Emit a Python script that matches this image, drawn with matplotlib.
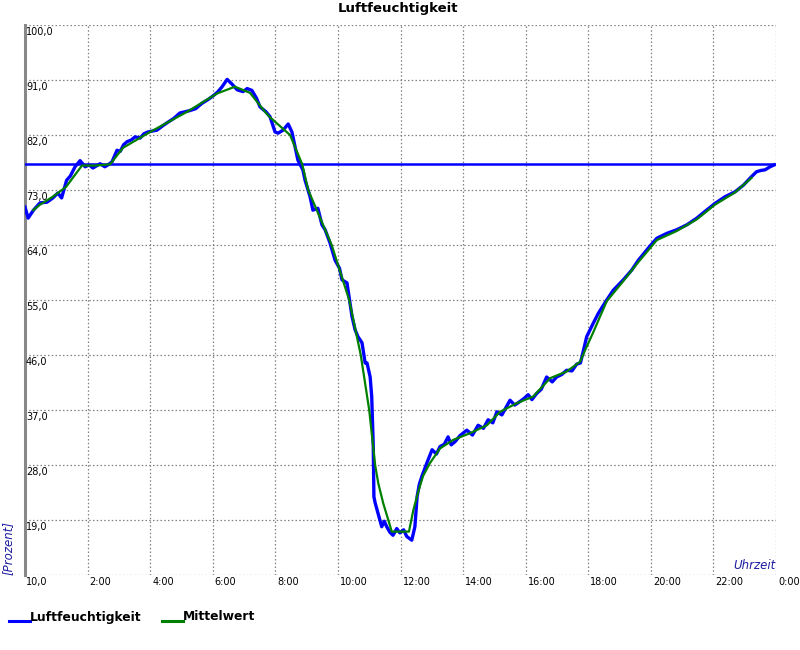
import matplotlib

matplotlib.use("Agg")
import matplotlib.pyplot as plt
from matplotlib.lines import Line2D
from matplotlib.transforms import offset_copy

# humidity readings (hours, percent)
hum_hours = [
    0.00, 0.10, 0.27, 0.48, 0.70, 0.89, 1.05, 1.17, 1.33, 1.45, 1.60, 1.76, 1.92, 2.05, 2.17,
    2.40, 2.55, 2.65, 2.78, 2.94, 3.04, 3.15, 3.26, 3.40, 3.52, 3.68, 3.80, 3.93, 4.22, 4.40,
    4.54, 4.75, 4.95, 5.27, 5.45, 5.66, 5.85, 6.01, 6.15, 6.30, 6.46, 6.62, 6.78, 6.97, 7.10,
    7.25, 7.40, 7.51, 7.70, 7.83, 7.99, 8.09, 8.25, 8.41, 8.53, 8.63, 8.72, 8.88, 8.95, 9.11,
    9.20, 9.36, 9.49, 9.59, 9.75, 9.91, 10.05, 10.13, 10.29, 10.34, 10.45, 10.55, 10.64, 10.77,
    10.87, 10.93, 11.03, 11.08, 11.13, 11.15, 11.19, 11.28, 11.40, 11.48, 11.56, 11.66, 11.76,
    11.88, 11.98, 12.10, 12.20, 12.36, 12.46, 12.53, 12.60, 12.68, 12.84, 13.01, 13.15, 13.26,
    13.40, 13.52, 13.62, 13.74, 13.90, 14.12, 14.30, 14.48, 14.65, 14.80, 14.95, 15.08, 15.24,
    15.38, 15.50, 15.65, 15.82, 15.95, 16.08, 16.20, 16.35, 16.50, 16.67, 16.85, 16.99, 17.15,
    17.31, 17.48, 17.63, 17.75, 17.84, 17.95, 18.16, 18.32, 18.59, 18.80, 19.12, 19.39, 19.60,
    19.92, 20.19, 20.51, 20.83, 21.15, 21.47, 21.73, 22.05, 22.37, 22.69, 22.96, 23.22, 23.38,
    23.52, 23.65, 23.81, 23.94,
]
hum_values = [
    70.2, 68.4, 69.7, 70.9, 71.0, 71.7, 72.5, 71.7, 74.6, 75.3, 76.8, 77.8, 76.8, 77.1, 76.6,
    77.3, 76.8, 77.1, 77.6, 79.5, 79.3, 80.4, 80.9, 81.2, 81.7, 81.5, 82.2, 82.5, 82.8, 83.5,
    84.0, 84.7, 85.6, 86.0, 86.3, 87.2, 87.8, 88.4, 89.0, 89.9, 91.1, 90.3, 89.4, 89.1, 89.6,
    89.3, 88.0, 86.6, 85.8, 85.0, 82.5, 82.3, 82.8, 83.8, 82.5, 80.1, 77.9, 76.3, 74.6, 71.9,
    69.7, 70.0, 67.3, 66.5, 64.3, 61.5, 60.2, 58.3, 57.8, 56.1, 52.3, 50.1, 49.0, 48.0,
    44.7, 44.7, 42.4, 39.2, 31.0, 22.8, 21.8, 20.1, 17.9, 18.8, 17.9, 17.0, 16.5,
    17.6, 16.9, 17.4, 16.3, 15.7, 17.9, 22.8, 24.8, 26.1, 28.3, 30.5, 29.8, 31.0,
    31.4, 32.6, 31.3, 31.8, 32.8, 33.7, 32.9, 34.5, 34.0, 35.4, 34.9, 36.7, 36.2,
    37.5, 38.6, 37.8, 38.4, 38.9, 39.5, 38.7, 39.7, 40.4, 42.4, 41.6, 42.4, 42.8,
    43.5, 43.4, 44.5, 44.7, 46.6, 49.0, 51.2, 52.8, 55.0, 56.6, 58.3, 59.9, 61.5,
    63.5, 65.1, 65.9, 66.5, 67.3, 68.4, 69.5, 70.8, 71.9, 72.7, 73.8, 75.2, 76.0,
    76.2, 76.3, 76.8, 77.1,
]

# mean value curve
mean_hours = [
    0.26, 0.48, 0.89, 1.31, 1.82, 2.24, 2.72, 3.13, 4.00, 5.18, 6.14, 6.71, 7.19, 7.67, 7.83,
    8.47, 8.86, 9.05, 9.80, 10.36, 10.73, 11.00, 11.19, 11.29, 11.45, 11.61, 11.72, 12.27,
    12.41, 12.56, 12.72, 12.94, 13.26, 13.68, 14.22, 14.76, 15.18, 15.71, 16.24, 16.78, 17.31,
    17.74, 17.90, 18.15, 18.59, 19.12, 19.60, 20.19, 20.83, 21.47, 22.05, 22.69, 23.22,
]
mean_values = [
    69.7, 70.6, 71.9, 73.5, 77.0, 77.0, 77.2, 79.9, 82.5, 85.8, 88.8, 89.9, 88.9, 85.8, 84.9,
    82.0, 77.2, 73.0, 64.0, 55.0, 46.0, 37.0, 28.0, 25.0, 21.7, 19.0, 17.1, 17.1,
    20.6, 23.5, 26.2, 28.3, 30.7, 32.1, 33.2, 34.5, 36.7, 38.1, 39.2, 42.2, 43.3,
    44.9, 46.8, 49.6, 54.8, 58.1, 61.2, 64.8, 66.3, 68.2, 70.6, 72.6, 75.0,
]

current_value = 77.2
y_ticks = [10, 19, 28, 37, 46, 55, 64, 73, 82, 91, 100]
x_ticks = [2, 4, 6, 8, 10, 12, 14, 16, 18, 20, 22, 24]
x_labels = ["2:00", "4:00", "6:00", "8:00", "10:00", "12:00", "14:00", "16:00",
            "18:00", "20:00", "22:00", "0:00"]

BLUE = "#0000ff"
GREEN = "#008000"
LABEL_BLUE = "#1c1ca0"

fig = plt.figure(figsize=(8, 6.5), dpi=100)
ax = fig.add_axes([25 / 800, 1 - 575 / 650, 751 / 800, 550 / 650])
ax.set_xlim(0, 24)
ax.set_ylim(10, 100)

ax.set_xticks([0] + x_ticks)
ax.set_yticks(y_ticks)
ax.tick_params(length=0, labelbottom=False, labelleft=False)
ax.grid(True, color="#808080", linestyle=(0, (1.2, 1.8)), linewidth=0.9)
for side in ("top", "right", "bottom"):
    ax.spines[side].set_visible(False)
ax.spines["left"].set_color("#888888")
ax.spines["left"].set_linewidth(2.2)

ax.axhline(current_value, color=BLUE, linewidth=1.8, zorder=3)
ax.plot(hum_hours, hum_values, color=BLUE, linewidth=2.4, zorder=4)
ax.plot(mean_hours, mean_values, color=GREEN, linewidth=1.6, zorder=5)

# value labels sit just below their grid line, inside the plot
ylab_tr = offset_copy(ax.get_yaxis_transform(), fig=fig, x=1, y=-2, units="dots")
for val in y_ticks:
    ax.text(0, val, f"{val:.1f}".replace(".", ","), transform=ylab_tr,
            ha="left", va="top", fontsize=7, color="black", clip_on=False)

xlab_tr = offset_copy(ax.transData, fig=fig, x=2, y=-2, units="dots")
for t, lab in zip(x_ticks, x_labels):
    ax.text(t, 10, lab, transform=xlab_tr, ha="left", va="top",
            fontsize=7, color="black", clip_on=False)

ax.text(0.999, 0.005, "Uhrzeit", transform=ax.transAxes, ha="right", va="bottom",
        fontsize=8.5, style="italic", color=LABEL_BLUE)
fig.text(8 / 800, 1 - 575 / 650, "[Prozent]", rotation=90, ha="center", va="bottom",
         fontsize=8.5, style="italic", color=LABEL_BLUE)

fig.text(0.497, 1 - 2 / 650, "Luftfeuchtigkeit", ha="center", va="top",
         fontsize=9.5, fontweight="bold")

# legend below the chart
leg_y = 1 - 617 / 650
line_y = 1 - 621 / 650
fig.add_artist(Line2D([9 / 800, 30 / 800], [line_y, line_y], color=BLUE, linewidth=2.2))
fig.text(30 / 800, leg_y, "Luftfeuchtigkeit", ha="left", va="center",
         fontsize=8.9, fontweight="bold")
fig.add_artist(Line2D([162 / 800, 183 / 800], [line_y, line_y], color=GREEN, linewidth=2.2))
fig.text(183 / 800, leg_y, "Mittelwert", ha="left", va="center",
         fontsize=8.9, fontweight="bold")

fig.savefig("out.png", dpi=100)
plt.close(fig)
